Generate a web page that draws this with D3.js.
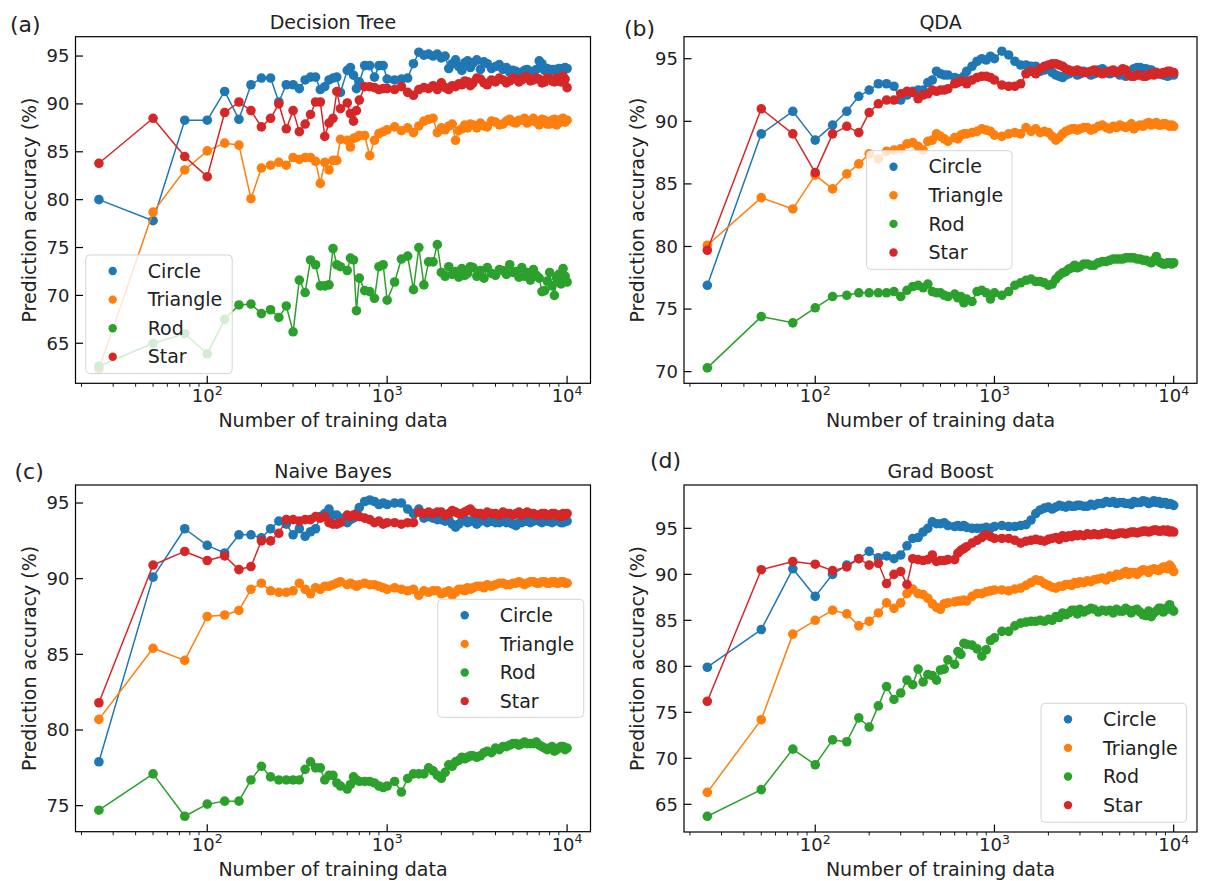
<!DOCTYPE html>
<html>
<head>
<meta charset="utf-8">
<script src="https://cdn.jsdelivr.net/npm/d3@7"></script>
<style>
  body { margin: 0; background: #fff; }
  svg { display: block; font-family: "DejaVu Sans", sans-serif; }
</style>
</head>
<body>
<div id="chart"></div>
<script>
// training set sizes shared by every panel
const trainSizes = [
  25, 50, 75, 100, 125, 150, 175, 200, 225, 250,
  275, 300, 325, 350, 375, 400, 425, 450, 475, 500,
  525, 550, 600, 625, 650, 675, 700, 750, 800, 850,
  900, 950, 1000, 1100, 1200, 1300, 1400, 1500, 1600, 1700,
  1800, 1900, 2000, 2100, 2200, 2300, 2400, 2500, 2600, 2700,
  2800, 2900, 3000, 3150, 3300, 3450, 3600, 3800, 4000, 4200,
  4400, 4600, 4800, 5000, 5200, 5400, 5600, 5800, 6000, 6250,
  6500, 6750, 7000, 7250, 7500, 7750, 8000, 8250, 8500, 8750,
  9000, 9250, 9500, 9750, 10000
]
const shapes = ['Circle', 'Triangle', 'Rod', 'Star']
const colors = ['#1f77b4', '#ff7f0e', '#2ca02c', '#d62728']

// (a) Decision Tree
const treeCircle = [
  80.0, 77.8, 88.3, 88.3, 91.3, 88.4, 92.0, 92.7, 92.7, 90.2,
  92.0, 92.0, 91.6, 92.5, 92.8, 92.8, 91.5, 91.8, 92.5, 92.7,
  92.8, 91.2, 93.5, 93.8, 93.0, 91.6, 92.3, 94.0, 94.0, 92.8,
  94.0, 94.0, 92.6, 92.5, 92.6, 92.7, 94.2, 95.4, 95.1, 95.2,
  95.0, 95.2, 94.8, 95.0, 93.7, 94.2, 94.6, 93.9, 93.5, 94.3,
  94.5, 93.8, 94.3, 94.6, 93.6, 94.4, 94.2, 93.7, 93.9, 94.1,
  93.6, 93.8, 93.3, 93.5, 93.4, 93.2, 93.3, 93.5, 93.6, 93.3,
  93.4, 93.6, 94.5, 94.2, 93.5, 93.7, 93.4, 93.6, 93.6, 93.4,
  93.7, 93.5, 93.7, 93.8, 93.7
]
const treeTriangle = [
  62.3, 78.7, 83.1, 85.1, 85.9, 85.7, 80.1, 83.3, 83.6, 83.9,
  83.6, 84.4, 84.2, 84.4, 84.4, 84.0, 81.7, 83.9, 83.1, 84.1,
  84.1, 86.3, 86.2, 85.5, 86.4, 86.5, 86.7, 86.7, 84.6, 86.2,
  86.9, 87.1, 87.3, 87.6, 87.2, 87.5, 87.0, 87.7, 88.2, 88.4,
  88.5, 87.0, 87.5, 87.3, 87.7, 87.9, 86.2, 87.2, 87.4, 87.8,
  87.5, 87.9, 87.8, 87.5, 88.0, 87.7, 87.6, 88.2, 88.1, 87.8,
  87.9, 88.2, 88.4, 88.1, 88.0, 88.3, 88.3, 88.5, 88.0, 88.2,
  88.5, 88.1, 87.8, 88.4, 88.3, 87.9, 87.9, 88.3, 88.4, 87.8,
  88.0, 88.4, 88.5, 88.1, 88.3
]
const treeRod = [
  62.6, 65.0, 66.0, 63.9, 67.5, 69.0, 69.1, 68.1, 68.5, 67.7,
  68.9, 66.2, 71.6, 70.3, 73.7, 73.2, 71.0, 71.0, 71.1, 74.9,
  73.2, 73.0, 72.6, 73.9, 73.7, 68.4, 71.8, 70.5, 70.4, 69.7,
  73.0, 73.2, 69.5, 71.4, 73.8, 74.1, 70.6, 75.0, 71.1, 73.5,
  73.5, 75.3, 72.4, 72.0, 73.0, 72.2, 72.5, 71.9, 72.8, 72.1,
  72.3, 73.0, 72.9, 72.0, 72.6, 71.8, 72.9, 72.3, 72.1, 72.7,
  72.6, 72.2, 73.2, 72.4, 72.5, 71.9, 72.9, 72.0, 72.4, 71.6,
  72.7, 72.1, 71.8, 70.4, 70.5, 71.5, 72.4, 71.0, 70.0, 71.8,
  72.2, 71.2, 72.8, 72.0, 71.4
]
const treeStar = [
  83.8, 88.5, 84.5, 82.4, 89.1, 90.2, 89.3, 87.6, 88.5, 90.0,
  87.4, 89.3, 87.1, 87.9, 88.9, 90.2, 90.2, 86.6, 88.0, 88.5,
  91.3, 89.5, 90.1, 89.0, 88.2, 89.3, 90.4, 91.8, 91.8, 91.7,
  91.5, 91.6, 91.6, 91.5, 91.8, 91.2, 90.9, 91.5, 91.7, 91.6,
  91.9, 91.5, 92.2, 91.7, 91.5, 91.9, 91.8, 92.1, 92.0, 92.4,
  92.3, 91.9, 92.2, 92.7, 92.6, 92.2, 92.0, 92.5, 92.3, 92.7,
  92.5, 92.2, 92.4, 92.7, 92.6, 92.3, 92.5, 92.8, 92.8, 92.4,
  92.5, 92.7, 92.6, 92.2, 92.3, 92.7, 92.6, 92.4, 92.3, 92.7,
  92.5, 92.3, 92.9, 92.6, 91.7
]

// (b) QDA
const qdaCircle = [
  76.9, 89.0, 90.8, 88.5, 89.7, 90.8, 92.0, 92.5, 93.0, 93.0,
  92.8, 91.7, 92.1, 92.4, 92.5, 92.5, 93.1, 93.3, 94.0, 93.8,
  93.7, 93.7, 93.5, 93.4, 93.4, 93.6, 94.0, 94.4, 94.8, 95.0,
  94.9, 95.2, 95.0, 95.6, 95.3, 94.8, 94.5, 94.5, 94.4, 94.4,
  94.0, 94.1, 94.2, 93.9, 93.7, 93.6, 93.5, 93.7, 93.8, 94.0,
  93.9, 93.7, 93.8, 94.0, 93.9, 93.7, 93.8, 94.1, 94.2, 94.0,
  93.8, 93.9, 93.9, 93.7, 93.8, 93.6, 93.7, 93.9, 94.2, 94.3,
  94.3, 94.2, 94.2, 94.1, 94.1, 93.9, 93.9, 93.8, 93.8, 93.7,
  93.7, 93.6, 93.7, 93.8, 93.7
]
const qdaTriangle = [
  80.1, 83.9, 83.0, 85.7, 84.6, 85.8, 86.6, 87.4, 87.0, 87.6,
  87.7, 87.8, 88.2, 88.3, 88.0, 87.7, 88.4, 88.5, 89.0, 88.8,
  88.6, 88.4, 88.7, 88.6, 88.9, 89.0, 89.0, 89.1, 89.2, 89.4,
  89.3, 89.2, 88.9, 88.8, 89.0, 89.1, 89.0, 89.5, 89.2, 89.4,
  89.1, 89.2, 89.1, 88.8, 88.5, 88.7, 89.0, 89.2, 89.3, 89.4,
  89.4, 89.3, 89.4, 89.5, 89.5, 89.3, 89.4, 89.6, 89.7, 89.5,
  89.4, 89.6, 89.5, 89.7, 89.6, 89.5, 89.6, 89.8, 89.4, 89.6,
  89.7, 89.6, 89.8, 89.9, 89.7, 89.8, 89.9, 89.7, 89.7, 89.8,
  89.8, 89.7, 89.6, 89.7, 89.6
]
const qdaRod = [
  70.3, 74.4, 73.9, 75.1, 76.0, 76.1, 76.3, 76.3, 76.3, 76.3,
  76.4, 76.0, 76.5, 76.8, 76.9, 76.7, 77.0, 76.4, 76.3, 76.3,
  76.1, 76.0, 76.2, 75.9, 76.0, 75.5, 75.8, 75.6, 76.4, 76.5,
  76.3, 75.8, 76.3, 76.1, 76.4, 76.9, 77.1, 77.3, 77.4, 77.2,
  77.2, 77.1, 76.9, 77.0, 77.4, 77.7, 77.9, 78.0, 78.2, 78.3,
  78.5, 78.3, 78.4, 78.6, 78.6, 78.5, 78.5, 78.7, 78.8, 78.8,
  78.9, 79.0, 79.0, 79.0, 79.0, 79.1, 79.1, 79.1, 79.1, 79.0,
  79.0, 78.9, 78.9, 78.8, 78.7, 78.9, 79.2, 78.8, 78.7, 78.6,
  78.6, 78.7, 78.7, 78.6, 78.7
]
const qdaStar = [
  79.7, 91.0, 89.0, 85.9, 89.0, 89.6, 89.1, 90.7, 91.4, 91.7,
  91.7, 92.2, 92.4, 92.3, 91.8, 92.1, 92.2, 92.5, 92.4, 92.5,
  92.5, 92.6, 93.0, 93.1, 93.2, 93.2, 93.0, 93.3, 93.5, 93.6,
  93.6, 93.5, 93.3, 92.9, 92.8, 92.8, 93.0, 93.8, 94.0, 93.8,
  94.2, 94.4, 94.5, 94.6, 94.6, 94.5, 94.4, 94.2, 94.1, 94.0,
  94.0, 94.1, 94.0, 93.9, 93.9, 94.0, 94.1, 93.9, 93.8, 93.9,
  94.0, 94.1, 93.9, 94.0, 94.2, 94.1, 93.7, 93.6, 93.6, 93.7,
  93.7, 93.6, 93.6, 93.7, 93.8, 93.7, 93.9, 93.8, 93.8, 93.9,
  93.9, 94.0, 94.0, 93.9, 93.9
]

// (c) Naive Bayes
const bayesCircle = [
  77.9, 90.1, 93.3, 92.2, 91.7, 92.9, 92.9, 92.7, 93.3, 93.8,
  93.6, 92.9, 93.3, 92.8, 93.1, 93.3, 94.1, 94.3, 94.6, 94.2,
  94.2, 94.0, 93.7, 93.9, 94.0, 94.3, 94.7, 95.1, 95.2, 95.1,
  94.9, 95.0, 94.9, 95.0, 95.0, 94.6, 94.3, 94.6, 94.0, 94.1,
  94.0, 93.9, 93.9, 93.8, 93.9, 93.6, 93.4, 93.6, 93.8, 93.9,
  93.7, 93.8, 93.8, 93.6, 93.8, 93.9, 93.7, 93.8, 93.7, 93.7,
  93.8, 93.7, 93.7, 93.6, 93.5, 93.7, 93.7, 93.8, 93.8, 93.7,
  93.8, 93.9, 93.8, 93.7, 93.9, 93.8, 93.8, 93.7, 93.8, 93.9,
  93.8, 93.7, 93.7, 93.8, 93.8
]
const bayesTriangle = [
  80.7, 85.4, 84.6, 87.5, 87.6, 87.9, 89.3, 89.7, 89.2, 89.1,
  89.1, 89.2, 89.7, 89.3, 89.0, 89.4, 89.3, 89.5, 89.5, 89.6,
  89.7, 89.8, 89.6, 89.7, 89.6, 89.5, 89.6, 89.7, 89.6, 89.6,
  89.5, 89.4, 89.3, 89.4, 89.3, 89.2, 89.3, 88.9, 89.2, 89.1,
  89.2, 89.2, 89.0, 89.1, 89.2, 88.9, 89.1, 89.3, 89.3, 89.2,
  89.4, 89.3, 89.4, 89.5, 89.5, 89.4, 89.6, 89.5, 89.6, 89.7,
  89.7, 89.6, 89.6, 89.7, 89.7, 89.8, 89.7, 89.6, 89.7, 89.8,
  89.8, 89.7, 89.7, 89.8, 89.8, 89.7, 89.7, 89.8, 89.8, 89.7,
  89.7, 89.8, 89.8, 89.7, 89.7
]
const bayesRod = [
  74.7, 77.1, 74.3, 75.1, 75.3, 75.3, 76.7, 77.6, 76.9, 76.7,
  76.7, 76.7, 76.7, 77.4, 77.9, 77.5, 77.5, 76.7, 77.0, 77.0,
  76.5, 76.3, 76.1, 76.4, 76.9, 76.7, 76.6, 76.6, 76.6, 76.5,
  76.3, 76.2, 76.3, 76.6, 75.9, 76.8, 77.1, 77.1, 77.1, 77.5,
  77.3, 77.0, 76.8, 77.2, 77.7, 77.6, 77.9, 78.0, 78.2, 78.1,
  78.2, 78.3, 78.3, 78.2, 78.3, 78.5, 78.6, 78.5, 78.8, 78.7,
  78.9, 78.9, 79.0, 79.1, 79.1, 79.0, 79.1, 79.2, 79.1, 79.1,
  79.1, 79.2, 79.0, 78.9, 78.8, 78.7, 78.8, 78.9, 78.6, 78.7,
  78.8, 78.9, 78.9, 78.7, 78.8
]
const bayesStar = [
  81.8, 90.9, 91.8, 91.2, 91.5, 90.6, 90.8, 92.5, 92.5, 93.0,
  93.9, 93.9, 93.8, 93.9, 93.9, 94.1, 94.0, 94.1, 93.7, 93.6,
  93.6, 93.7, 94.2, 94.1, 94.2, 94.2, 94.1, 94.0, 93.9, 93.7,
  93.8, 93.6, 93.7, 93.7, 93.6, 93.7, 93.7, 94.4, 94.3, 94.4,
  94.3, 94.4, 94.4, 94.2, 94.3, 94.5, 94.4, 94.3, 94.3, 94.4,
  94.5, 94.6, 94.4, 94.3, 94.3, 94.2, 94.4, 94.3, 94.3, 94.2,
  94.4, 94.3, 94.3, 94.2, 94.3, 94.4, 94.2, 94.3, 94.4, 94.3,
  94.3, 94.2, 94.2, 94.3, 94.3, 94.2, 94.2, 94.3, 94.3, 94.2,
  94.2, 94.1, 94.3, 94.2, 94.3
]

// (d) Grad Boost
const boostCircle = [
  79.9, 84.0, 90.6, 87.6, 90.0, 91.0, 91.7, 92.5, 91.8, 92.0,
  91.7, 92.1, 93.1, 93.9, 94.0, 94.6, 95.0, 95.7, 95.5, 95.5,
  95.6, 95.3, 95.2, 95.3, 95.2, 95.3, 95.1, 95.0, 95.0, 95.0,
  95.1, 95.0, 95.2, 95.3, 95.2, 95.2, 95.3, 95.4, 95.9, 96.6,
  97.0, 97.2, 97.3, 97.1, 97.3, 97.5, 97.4, 97.3, 97.5, 97.4,
  97.4, 97.5, 97.5, 97.4, 97.4, 97.6, 97.5, 97.7, 97.7, 97.9,
  97.8, 97.9, 97.7, 97.8, 97.8, 97.7, 97.7, 97.6, 97.9, 97.8,
  97.8, 98.0, 97.9, 97.7, 97.8, 98.0, 97.8, 97.9, 97.7, 97.8,
  97.8, 97.6, 97.7, 97.6, 97.5
]
const boostTriangle = [
  66.3, 74.2, 83.5, 85.0, 86.1, 85.7, 84.4, 84.9, 85.8, 86.9,
  86.3, 86.9, 87.9, 88.4, 87.9, 87.8, 87.4, 86.8, 86.4, 86.2,
  86.8, 86.9, 87.0, 87.1, 87.1, 87.2, 87.1, 87.6, 87.9, 87.9,
  88.1, 88.2, 88.3, 88.3, 88.2, 88.4, 88.5, 88.8, 89.1, 89.4,
  89.3, 89.0, 88.8, 88.6, 88.5, 88.7, 88.7, 88.9, 88.9, 88.8,
  89.1, 89.0, 89.2, 89.1, 89.3, 89.2, 89.4, 89.5, 89.6, 89.4,
  89.8, 89.7, 90.0, 89.9, 90.1, 90.3, 90.0, 90.2, 90.2, 90.0,
  90.3, 90.5, 90.4, 90.2, 90.5, 90.6, 90.5, 90.4, 90.6, 90.8,
  90.8, 90.6, 91.0, 90.7, 90.3
]
const boostRod = [
  63.7, 66.6, 71.0, 69.3, 72.0, 71.8, 74.4, 73.4, 75.7, 77.8,
  76.4, 77.1, 78.5, 78.0, 79.7, 78.3, 79.1, 79.0, 78.5, 79.6,
  79.7, 80.7, 80.2, 81.6, 81.3, 82.5, 82.4, 82.3, 81.9, 81.1,
  81.8, 82.8, 83.1, 83.8, 83.8, 84.4, 84.7, 84.8, 84.9, 84.9,
  85.0, 84.9, 85.1, 85.0, 85.4, 85.3, 85.8, 85.6, 85.8, 86.1,
  86.1, 85.7, 86.2, 85.9, 86.1, 86.3, 86.2, 85.9, 86.1, 86.0,
  86.1, 85.8, 86.2, 86.0, 86.0, 86.3, 86.1, 85.8, 86.1, 86.2,
  85.9, 85.6, 85.5, 86.0, 85.4, 85.8, 86.0, 86.3, 86.3, 85.9,
  86.1, 86.4, 86.7, 86.2, 86.0
]
const boostStar = [
  76.2, 90.5, 91.4, 91.1, 90.4, 90.8, 91.7, 91.0, 91.2, 89.0,
  90.0, 90.3, 88.9, 91.7, 91.6, 91.5, 91.6, 92.1, 91.4, 91.5,
  91.5, 91.6, 91.6, 92.3, 92.6, 92.8, 93.0, 93.4, 93.7, 94.0,
  94.3, 94.1, 93.9, 93.9, 93.9, 93.7, 93.4, 93.6, 93.7, 93.8,
  93.7, 93.6, 93.8, 93.9, 94.0, 93.8, 94.2, 94.0, 94.2, 94.1,
  94.3, 94.2, 94.3, 94.2, 94.4, 94.3, 94.4, 94.3, 94.4, 94.5,
  94.4, 94.3, 94.4, 94.5, 94.5, 94.4, 94.5, 94.6, 94.6, 94.5,
  94.6, 94.7, 94.7, 94.6, 94.7, 94.8, 94.8, 94.7, 94.7, 94.8,
  94.7, 94.8, 94.6, 94.7, 94.6
]

// y tick labels of each panel
const treeTicks = [65, 70, 75, 80, 85, 90, 95]
const qdaTicks = [70, 75, 80, 85, 90, 95]
const bayesTicks = [75, 80, 85, 90, 95]
const boostTicks = [65, 70, 75, 80, 85, 90, 95]
const xMajorTicks = [100, 1000, 10000]

const panels = [
  { tag: '(a)', tagX: 10, tagY: 32, title: 'Decision Tree',
    series: [treeCircle, treeTriangle, treeRod, treeStar], ticks: treeTicks,
    yDomain: [60.82, 97.02], box: { x: 75.5, y: 36.7, w: 515, h: 346.6 },
    legend: { x: 85.7, y: 255, w: 146.5, h: 118.5 } },
  { tag: '(b)', tagX: 624, tagY: 35.5, title: 'QDA',
    series: [qdaCircle, qdaTriangle, qdaRod, qdaStar], ticks: qdaTicks,
    yDomain: [69.07, 96.76], box: { x: 684, y: 36.7, w: 513, h: 346.6 },
    legend: { x: 866.5, y: 150.7, w: 145.5, h: 118.6 } },
  { tag: '(c)', tagX: 14.5, tagY: 479, title: 'Naive Bayes',
    series: [bayesCircle, bayesTriangle, bayesRod, bayesStar], ticks: bayesTicks,
    yDomain: [73.28, 96.19], box: { x: 75.5, y: 485, w: 515, h: 346.7 },
    legend: { x: 437.7, y: 599.3, w: 146, h: 118 } },
  { tag: '(d)', tagX: 650, tagY: 468, title: 'Grad Boost',
    series: [boostCircle, boostTriangle, boostRod, boostStar], ticks: boostTicks,
    yDomain: [61.99, 99.71], box: { x: 684, y: 485, w: 513, h: 347 },
    legend: { x: 1041, y: 703.3, w: 145.5, h: 119 } }
]

const width = 1205, height = 881
const svg = d3.select('#chart').append('svg')
  .attr('width', width)
  .attr('height', height)

// matplotlib style 5% margin on the log range
const logPad = (Math.log10(10000) - Math.log10(25)) * 0.05
const xDomain = [25 / Math.pow(10, logPad), 10000 * Math.pow(10, logPad)]

// minor ticks 2..9 x decade inside the domain
let xMinorTicks = []
for (let dec = 10; dec <= 1000; dec *= 10) {
  for (let k = 2; k <= 9; k++) {
    let v = k * dec
    if (v >= xDomain[0] && v <= xDomain[1]) xMinorTicks.push(v)
  }
}

panels.forEach(function(p) {
  const b = p.box
  const x = d3.scaleLog().domain(xDomain).range([b.x, b.x + b.w])
  const y = d3.scaleLinear().domain(p.yDomain).range([b.y + b.h, b.y])
  const g = svg.append('g')

  // data: line then markers per series, in legend order
  const line = d3.line()
    .x(function(d) { return x(d[0]) })
    .y(function(d) { return y(d[1]) })
  p.series.forEach(function(vals, i) {
    const pts = trainSizes.map(function(t, j) { return [t, vals[j]] })
    g.append('path')
      .attr('d', line(pts))
      .attr('fill', 'none')
      .attr('stroke', colors[i])
      .attr('stroke-width', 1.5)
      .attr('stroke-linejoin', 'round')
    g.append('g')
      .selectAll('circle')
      .data(pts)
      .enter()
      .append('circle')
      .attr('cx', function(d) { return x(d[0]) })
      .attr('cy', function(d) { return y(d[1]) })
      .attr('r', 4.8)
      .attr('fill', colors[i])
  })

  // frame
  g.append('rect')
    .attr('x', b.x).attr('y', b.y)
    .attr('width', b.w).attr('height', b.h)
    .attr('fill', 'none')
    .attr('stroke', '#000')
    .attr('stroke-width', 1.2)

  // y ticks point inward
  p.ticks.forEach(function(t) {
    g.append('line')
      .attr('x1', b.x).attr('x2', b.x + 7.5)
      .attr('y1', y(t)).attr('y2', y(t))
      .attr('stroke', '#000').attr('stroke-width', 1.2)
    g.append('text')
      .attr('x', b.x - 6)
      .attr('y', y(t))
      .attr('dy', '0.35em')
      .attr('text-anchor', 'end')
      .attr('font-size', '18px')
      .attr('fill', '#222')
      .text(t)
  })

  // x major ticks inward, minor ticks outward
  const yb = b.y + b.h
  xMajorTicks.forEach(function(t) {
    g.append('line')
      .attr('x1', x(t)).attr('x2', x(t))
      .attr('y1', yb).attr('y2', yb - 7.5)
      .attr('stroke', '#000').attr('stroke-width', 1.2)
    const lab = g.append('text')
      .attr('x', x(t))
      .attr('y', yb + 19)
      .attr('text-anchor', 'middle')
      .attr('font-size', '18px')
      .attr('fill', '#222')
    lab.append('tspan').text('10')
    lab.append('tspan')
      .attr('dy', -7.5)
      .attr('font-size', '12.5px')
      .text(Math.round(Math.log10(t)))
  })
  xMinorTicks.forEach(function(t) {
    g.append('line')
      .attr('x1', x(t)).attr('x2', x(t))
      .attr('y1', yb).attr('y2', yb + 3.5)
      .attr('stroke', '#000').attr('stroke-width', 0.9)
  })

  // labels
  g.append('text')
    .attr('x', b.x + b.w / 2)
    .attr('y', yb + 44)
    .attr('text-anchor', 'middle')
    .attr('font-size', '19px')
    .attr('fill', '#222')
    .text('Number of training data')
  g.append('text')
    .attr('transform', 'translate(' + (b.x - 40) + ',' + (b.y + b.h / 2) + ')rotate(-90)')
    .attr('text-anchor', 'middle')
    .attr('font-size', '19px')
    .attr('fill', '#222')
    .text('Prediction accuracy (%)')
  g.append('text')
    .attr('x', b.x + b.w / 2)
    .attr('y', b.y - 7.5)
    .attr('text-anchor', 'middle')
    .attr('font-size', '19px')
    .attr('fill', '#222')
    .text(p.title)
  g.append('text')
    .attr('x', p.tagX)
    .attr('y', p.tagY)
    .attr('font-size', '22px')
    .attr('fill', '#222')
    .text(p.tag)

  // legend: white box at 80% opacity, dot + name
  const L = p.legend
  const lg = g.append('g')
  lg.append('rect')
    .attr('x', L.x).attr('y', L.y)
    .attr('width', L.w).attr('height', L.h)
    .attr('rx', 4)
    .attr('fill', '#fff').attr('fill-opacity', 0.8)
    .attr('stroke', '#d5d5d5').attr('stroke-width', 1)
  shapes.forEach(function(name, i) {
    const cy = L.y + 16 + i * 28.6
    lg.append('circle')
      .attr('cx', L.x + 27).attr('cy', cy)
      .attr('r', 4.2)
      .attr('fill', colors[i])
    lg.append('text')
      .attr('x', L.x + 62).attr('y', cy)
      .attr('dy', '0.35em')
      .attr('font-size', '19px')
      .attr('fill', '#222')
      .text(name)
  })
})
</script>
</body>
</html>
